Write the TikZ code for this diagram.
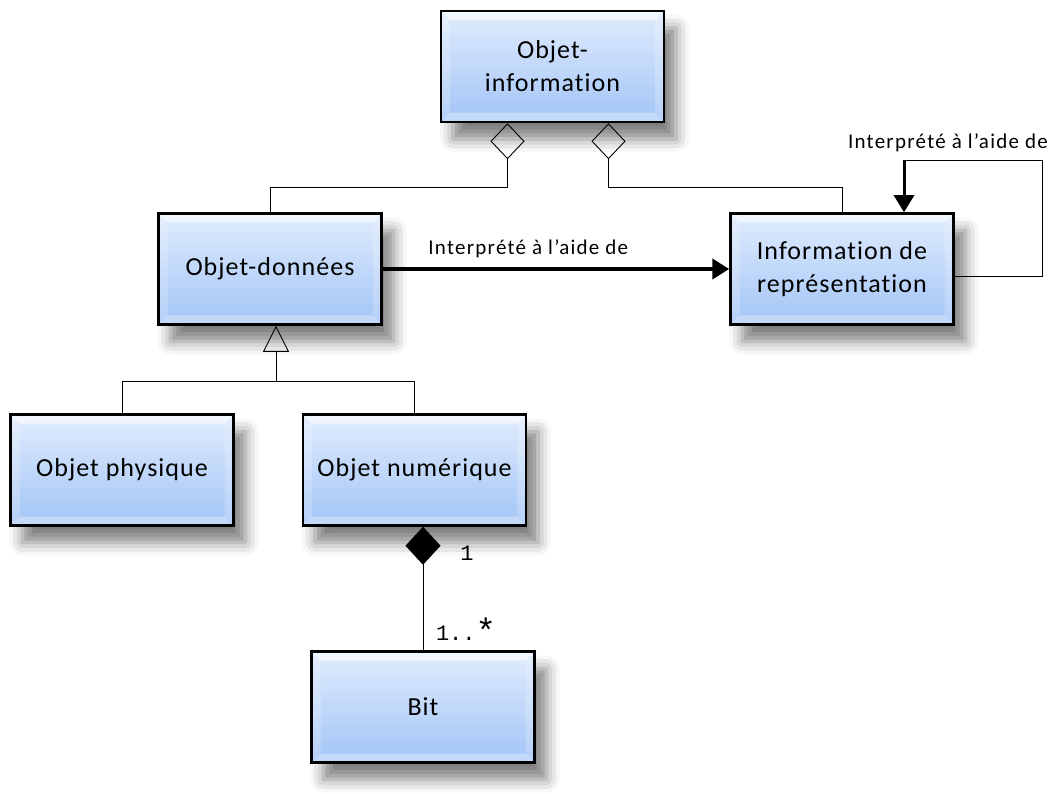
\documentclass[tikz,border=0pt]{standalone}
\usepackage{fontspec}
\setmainfont{Carlito}[Ligatures={NoCommon,NoContextual,NoRare}]
\newfontfamily\boxfont{Carlito}[LetterSpace=4, Ligatures={NoCommon,NoContextual,NoRare}]
\newfontfamily\assocfont{Carlito}[LetterSpace=6, Ligatures={NoCommon,NoContextual,NoRare}]
\newfontfamily\multfont{Liberation Mono}
\usepackage{tikz}
\usetikzlibrary{arrows.meta, positioning, shadows.blur}

\definecolor{boxtop}{RGB}{224,236,253}
\definecolor{boxbottom}{RGB}{162,196,246}

\begin{document}
\begin{tikzpicture}[x=1pt, y=-1pt,
  classbox/.style={draw, line width=2.5pt, minimum width=223pt, minimum height=111pt,
    top color=boxtop, bottom color=boxbottom, align=center,
    font=\boxfont\fontsize{26}{33}\selectfont,
    blur shadow={shadow xshift=12pt, shadow yshift=-17pt, shadow blur radius=13pt, shadow opacity=50},
    path picture={
      \fill[white, opacity=0.6] (path picture bounding box.north west) -- (path picture bounding box.north east)
        -- ([shift={(-9pt,-9pt)}]path picture bounding box.north east) -- ([shift={(9pt,-9pt)}]path picture bounding box.north west) -- cycle;
      \fill[white, opacity=0.35] (path picture bounding box.south west) -- (path picture bounding box.south east)
        -- ([shift={(-9pt,9pt)}]path picture bounding box.south east) -- ([shift={(9pt,9pt)}]path picture bounding box.south west) -- cycle;
      \fill[white, opacity=0.2] (path picture bounding box.north west) -- ([shift={(9pt,-9pt)}]path picture bounding box.north west)
        -- ([shift={(9pt,9pt)}]path picture bounding box.south west) -- (path picture bounding box.south west) -- cycle;
      \fill[white, opacity=0.2] (path picture bounding box.north east) -- ([shift={(-9pt,-9pt)}]path picture bounding box.north east)
        -- ([shift={(-9pt,9pt)}]path picture bounding box.south east) -- (path picture bounding box.south east) -- cycle;
    }},
  link/.style={line width=0.9pt},
  assoc/.style={font=\assocfont\fontsize{21}{25}\selectfont, inner sep=1pt},
  mult/.style={font=\multfont\fontsize{22}{26}\selectfont, inner sep=1pt}
]
\useasboundingbox (0,0) rectangle (1052,794);

% Classes
\node[classbox] (info) at (552.5,66.5) {Objet-\\information};
\node[classbox] (donnees) at (270,269) {Objet-données};
\node[classbox] (repr) at (842,269) {Information de\\représentation};
\node[classbox] (phys) at (122,470) {Objet physique};
\node[classbox] (num) at (414.5,470) {Objet numérique};
\node[classbox] (bit) at (423,707) {Bit};

% Aggregations
\coordinate (aggL) at ([xshift=-45pt]info.south);
\coordinate (aggR) at ([xshift=56pt]info.south);
\draw[link, -{Diamond[open, length=36pt, width=34pt]}] (donnees.north) |- ([yshift=-64pt]aggL) -- (aggL);
\draw[link, -{Diamond[open, length=36pt, width=34pt]}] (repr.north) |- ([yshift=-64pt]aggR) -- (aggR);

% Generalization
\coordinate (genT) at ([xshift=6pt]donnees.south);
\draw[link, -{Triangle[open, length=26pt, width=26pt]}] (phys.north) |- ([yshift=-56pt]genT) -- (genT);
\draw[link] (num.north) |- ([yshift=-56pt]genT);

% Composition
\draw[link, -{Diamond[length=38pt, width=35pt]}] (bit.north) -- (bit.north |- num.south);
\node[mult] (multA) at (467,553) {1};
\node[mult] (multB) at (466,630) {1..\raisebox{-2pt}{\fontsize{34}{34}\selectfont *}};

% Interpretation
\draw[line width=4pt, -{Triangle[length=17pt, width=20pt]}] (donnees.east) -- (repr.west)
  node[assoc, pos=0.42, above=8pt] (lblA) {Interprété à l’aide de};

\coordinate (loopS) at ([yshift=-7pt]repr.east);
\coordinate (loopR) at ([xshift=88pt]loopS);
\coordinate (loopT) at ([xshift=62pt, yshift=52pt]repr.north);
\draw[link] (loopS) -- (loopR) |- (loopT);
\draw[line width=3pt, -{Triangle[length=17pt, width=20pt]}] (loopT) -- (loopT |- repr.north);
\node[assoc, anchor=east] (lblB) at (1049,143) {Interprété à l’aide de};

\end{tikzpicture}
\end{document}
